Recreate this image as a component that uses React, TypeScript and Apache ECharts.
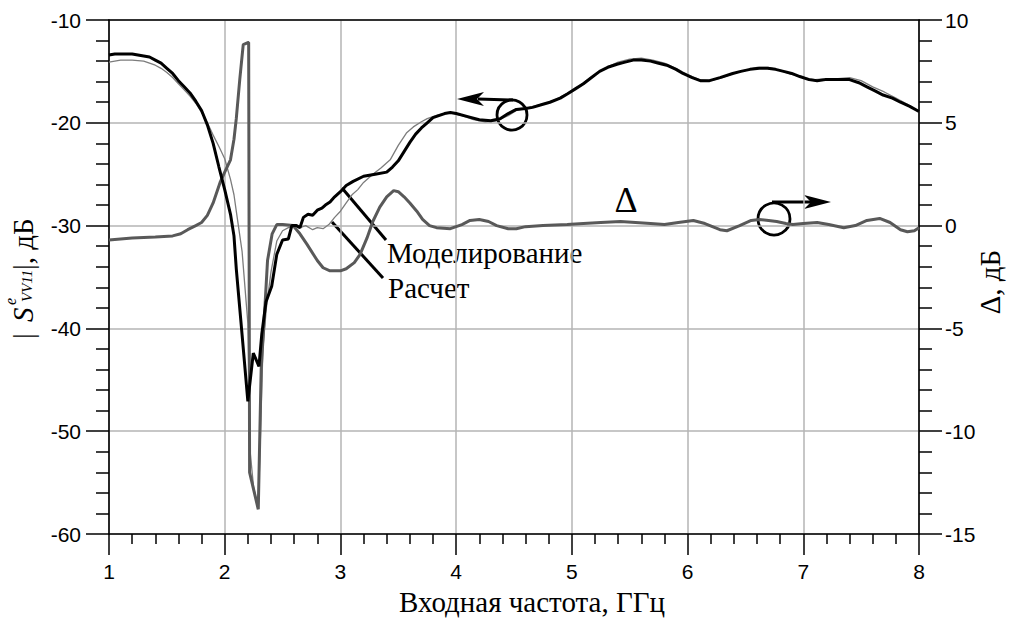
import React, { useEffect, useRef } from "react";
import * as echarts from "echarts";

// ---- Data ----
const xTicks = [1, 2, 3, 4, 5, 6, 7, 8];
const leftTicks = [-60, -50, -40, -30, -20, -10];
const rightTicks = [-15, -10, -5, 0, 5, 10];

// "Моделирование" — thick black curve, |S| in dB (left axis)
const modelFreq = [1.0, 1.05, 1.1, 1.2, 1.3, 1.35, 1.4, 1.45, 1.5, 1.55, 1.6, 1.65, 1.7, 1.75, 1.8, 1.85, 1.9, 1.95, 2.0, 2.05, 2.08, 2.1, 2.15, 2.2, 2.247, 2.296, 2.32, 2.357, 2.406, 2.45, 2.5, 2.55, 2.58, 2.62, 2.65, 2.68, 2.72, 2.76, 2.8, 2.84, 2.87, 2.91, 2.95, 3.0, 3.05, 3.11, 3.2, 3.3, 3.4, 3.45, 3.5, 3.55, 3.6, 3.65, 3.7, 3.75, 3.8, 3.9, 3.95, 4.0, 4.1, 4.2, 4.3, 4.38, 4.45, 4.52, 4.6, 4.66, 4.75, 4.81, 4.9, 4.96, 5.03, 5.1, 5.17, 5.24, 5.31, 5.39, 5.46, 5.53, 5.6, 5.68, 5.75, 5.82, 5.9, 5.96, 6.04, 6.11, 6.19, 6.28, 6.39, 6.46, 6.54, 6.62, 6.69, 6.76, 6.83, 6.9, 6.97, 7.05, 7.12, 7.19, 7.26, 7.33, 7.4, 7.48, 7.55, 7.62, 7.69, 7.77, 7.84, 7.92, 8.0];
const modelDb = [-13.4, -13.3, -13.3, -13.3, -13.5, -13.6, -13.9, -14.2, -14.7, -15.2, -15.9, -16.5, -17.1, -17.9, -18.8, -20.2, -22.0, -24.3, -26.5, -28.9, -31.0, -34.2, -40.6, -47.1, -42.4, -43.7, -40.6, -37.4, -35.9, -32.8, -31.4, -31.3, -30.0, -30.0, -30.2, -29.2, -28.9, -29.0, -28.5, -28.3, -28.0, -27.7, -27.2, -26.7, -26.1, -25.7, -25.2, -25.0, -24.8, -24.3, -23.7, -22.8, -21.9, -21.1, -20.5, -20.0, -19.5, -19.1, -19.0, -19.1, -19.4, -19.7, -19.8, -19.6, -19.1, -18.7, -18.6, -18.5, -18.2, -18.0, -17.6, -17.2, -16.7, -16.2, -15.6, -15.0, -14.6, -14.3, -14.1, -13.9, -13.9, -14.0, -14.2, -14.4, -14.8, -15.2, -15.6, -15.9, -15.9, -15.6, -15.2, -15.0, -14.8, -14.7, -14.7, -14.8, -15.0, -15.2, -15.5, -15.8, -15.9, -15.8, -15.8, -15.8, -15.8, -16.1, -16.5, -16.9, -17.3, -17.6, -18.0, -18.4, -18.9];

// "Расчет" — thin grey curve, |S| in dB (left axis)
const calcFreq = [1.0, 1.05, 1.1, 1.2, 1.3, 1.35, 1.4, 1.45, 1.5, 1.55, 1.6, 1.65, 1.7, 1.75, 1.8, 1.85, 1.9, 1.95, 2.0, 2.05, 2.08, 2.1, 2.15, 2.2, 2.22, 2.25, 2.29, 2.31, 2.33, 2.36, 2.4, 2.45, 2.5, 2.55, 2.6, 2.65, 2.7, 2.76, 2.8, 2.85, 2.9, 2.95, 3.0, 3.05, 3.1, 3.15, 3.2, 3.28, 3.35, 3.43, 3.5, 3.57, 3.63, 3.7, 3.75, 3.85, 3.95, 4.05, 4.15, 4.25, 4.35, 4.45, 4.52, 4.6, 4.7, 4.81, 4.9, 5.0, 5.1, 5.2, 5.3, 5.4, 5.5, 5.6, 5.7, 5.8, 5.9, 6.0, 6.1, 6.2, 6.3, 6.4, 6.5, 6.6, 6.7, 6.8, 6.9, 7.0, 7.1, 7.2, 7.3, 7.4, 7.5, 7.6, 7.7, 7.8, 7.9, 8.0];
const calcDb = [-14.1, -14.0, -13.9, -13.9, -14.0, -14.2, -14.4, -14.7, -15.1, -15.6, -16.2, -16.8, -17.4, -18.1, -19.0, -20.0, -21.2, -22.3, -23.5, -25.5, -27.0, -28.6, -32.5, -39.5, -52.0, -55.5, -57.5, -50.0, -42.0, -38.0, -34.5, -31.5, -30.5, -30.2, -30.0, -30.2, -30.0, -30.4, -30.2, -30.3, -29.9, -29.2, -28.6, -27.8, -27.0, -26.5, -25.8, -25.0, -24.4, -23.6, -22.2, -21.0, -20.4, -19.9, -19.6, -19.2, -19.0, -19.3, -19.7, -19.9, -19.8, -19.3, -18.8, -18.6, -18.3, -18.0, -17.5, -16.9, -16.1, -15.3, -14.6, -14.1, -13.8, -13.7, -13.9, -14.2, -14.7, -15.3, -15.8, -15.9, -15.6, -15.2, -14.9, -14.6, -14.6, -14.9, -15.3, -15.6, -15.8, -15.7, -15.7, -15.6, -15.9, -16.5, -17.0, -17.6, -18.2, -18.9];

// Δ — thick dark-grey curve, dB (right axis)
const deltaFreq = [1.0, 1.2, 1.4, 1.55, 1.62, 1.68, 1.75, 1.8, 1.85, 1.9, 1.96, 2.0, 2.05, 2.08, 2.1, 2.13, 2.16, 2.2, 2.207, 2.215, 2.29, 2.315, 2.35, 2.37, 2.41, 2.45, 2.5, 2.59, 2.65, 2.71, 2.8, 2.85, 2.91, 3.0, 3.05, 3.12, 3.17, 3.23, 3.28, 3.34, 3.4, 3.46, 3.5, 3.55, 3.6, 3.66, 3.71, 3.77, 3.83, 3.95, 4.05, 4.12, 4.2, 4.28, 4.35, 4.45, 4.52, 4.6, 4.75, 4.96, 5.1, 5.25, 5.42, 5.55, 5.68, 5.8, 5.92, 6.05, 6.15, 6.28, 6.34, 6.45, 6.55, 6.62, 6.7, 6.77, 6.85, 6.91, 7.0, 7.12, 7.22, 7.35, 7.45, 7.55, 7.66, 7.75, 7.84, 7.9, 7.96, 8.0];
const deltaDb = [-0.7, -0.6, -0.55, -0.5, -0.4, -0.2, 0.0, 0.15, 0.5, 1.1, 2.1, 2.6, 3.2, 4.2, 5.2, 7.1, 8.8, 8.9, 8.9, -12.0, -13.8, -7.0, -3.7, -1.7, -0.4, 0.05, 0.05, 0.0, -0.4, -0.9, -1.7, -2.05, -2.2, -2.2, -2.1, -1.8, -1.4, -0.6, 0.2, 0.9, 1.4, 1.7, 1.65, 1.4, 1.1, 0.7, 0.3, 0.0, -0.1, -0.15, 0.05, 0.25, 0.3, 0.2, 0.0, -0.15, -0.15, -0.05, 0.0, 0.05, 0.1, 0.15, 0.2, 0.15, 0.1, 0.05, 0.15, 0.25, 0.1, -0.2, -0.25, 0.0, 0.25, 0.3, 0.25, 0.2, 0.1, 0.05, 0.1, 0.15, 0.05, -0.1, 0.0, 0.25, 0.35, 0.15, -0.2, -0.3, -0.25, -0.1];

const zip = (xs: number[], ys: number[]) => xs.map((x, i) => [x, ys[i]]);

const SERIF = '"Liberation Serif", "Times New Roman", serif';
const SANS = '"Liberation Sans", Arial, sans-serif';

export default function App() {
  const ref = useRef<HTMLDivElement>(null);
  useEffect(() => {
    if (!ref.current) return;
    const chart = echarts.init(ref.current, undefined, { renderer: "svg" });
    const axisLine = { show: true, onZero: false, lineStyle: { color: "#000", width: 1.6 } };
    const tickStyle = { color: "#000", width: 1.5 };
    const labelStyle = { color: "#000", fontSize: 21, fontFamily: SANS };
    const txt = (x: number, y: number, text: string, size: number, extra: any = {}) => ({
      type: "text",
      x,
      y,
      style: { text, fontSize: size, fontFamily: SERIF, fill: "#000", align: "left", verticalAlign: "middle", ...extra },
    });
    const option: any = {
      animation: false,
      backgroundColor: "#fff",
      grid: { left: 109, right: 94, top: 20, bottom: 84, containLabel: false, outerBoundsMode: "none" },
      xAxis: [
        {
          type: "value",
          min: xTicks[0],
          max: xTicks[xTicks.length - 1],
          interval: 1,
          position: "bottom",
          axisLine,
          axisTick: { show: true, length: 21, lineStyle: tickStyle },
          minorTick: { show: true, splitNumber: 5, length: 10, lineStyle: tickStyle },
          axisLabel: { ...labelStyle, margin: 27 },
          splitLine: { show: true, lineStyle: { color: "#b5b5b5", width: 1.5 } },
          name: "Входная частота, ГГц",
          nameLocation: "middle",
          nameGap: 53,
          nameTextStyle: { fontFamily: SERIF, fontSize: 29, color: "#000", padding: [0, 0, 0, 36] },
        },
        {
          type: "value",
          min: xTicks[0],
          max: xTicks[xTicks.length - 1],
          position: "top",
          axisLine,
          axisTick: { show: false },
          axisLabel: { show: false },
          splitLine: { show: false },
        },
      ],
      yAxis: [
        {
          type: "value",
          min: leftTicks[0],
          max: leftTicks[leftTicks.length - 1],
          interval: 10,
          position: "left",
          axisLine,
          axisTick: { show: true, length: 23, lineStyle: tickStyle },
          minorTick: { show: true, splitNumber: 5, length: 13, lineStyle: tickStyle },
          axisLabel: { ...labelStyle, margin: 28 },
          splitLine: { show: true, lineStyle: { color: "#b5b5b5", width: 1.5 } },
        },
        {
          type: "value",
          min: rightTicks[0],
          max: rightTicks[rightTicks.length - 1],
          interval: 5,
          position: "right",
          axisLine,
          axisTick: { show: true, length: 23, lineStyle: tickStyle },
          minorTick: { show: true, splitNumber: 5, length: 13, lineStyle: tickStyle },
          axisLabel: { ...labelStyle, margin: 26 },
          splitLine: { show: false },
        },
      ],
      series: [
        {
          name: "Расчет",
          type: "line",
          xAxisIndex: 0,
          yAxisIndex: 0,
          data: zip(calcFreq, calcDb),
          showSymbol: false,
          lineStyle: { color: "#7c7c7c", width: 1.3 },
          z: 2,
        },
        {
          name: "Δ",
          type: "line",
          xAxisIndex: 0,
          yAxisIndex: 1,
          data: zip(deltaFreq, deltaDb),
          showSymbol: false,
          lineStyle: { color: "#595959", width: 3 },
          z: 3,
        },
        {
          name: "Моделирование",
          type: "line",
          xAxisIndex: 0,
          yAxisIndex: 0,
          data: zip(modelFreq, modelDb),
          showSymbol: false,
          lineStyle: { color: "#000", width: 3 },
          z: 4,
        },
      ],
      graphic: [
        // left axis title |S^e_VV11|, дБ
        {
          type: "group",
          x: 23,
          y: 278,
          rotation: Math.PI / 2,
          children: [
            txt(-58, 0, "|", 29, { align: "center" }),
            txt(-44, 0, "S", 29, { fontStyle: "italic" }),
            txt(-27, -13, "e", 16, { fontStyle: "italic" }),
            txt(-24, 4, "VV11", 15, { fontStyle: "italic" }),
            txt(8, 0, "|, дБ", 29),
          ],
        },
        // right axis title Δ, дБ
        {
          type: "group",
          x: 990,
          y: 282,
          rotation: Math.PI / 2,
          children: [txt(0, 0, "Δ, дБ", 29, { align: "center" })],
        },
        // annotations
        txt(387, 253, "Моделирование", 29),
        txt(388, 288, "Расчет", 29),
        txt(626, 200, "Δ", 36, { align: "center" }),
        { type: "line", shape: { x1: 342, y1: 188, x2: 386, y2: 240 }, style: { stroke: "#000", lineWidth: 3 } },
        { type: "line", shape: { x1: 332, y1: 222, x2: 383, y2: 278 }, style: { stroke: "#000", lineWidth: 3 } },
        { type: "circle", shape: { cx: 512, cy: 115, r: 15 }, style: { stroke: "#000", lineWidth: 2.8, fill: "none" } },
        { type: "line", shape: { x1: 478, y1: 99, x2: 513, y2: 100 }, style: { stroke: "#000", lineWidth: 3 } },
        { type: "polygon", shape: { points: [[457, 99], [484, 92], [477, 99], [484, 106]] }, style: { fill: "#000" } },
        { type: "circle", shape: { cx: 774, cy: 219, r: 16 }, style: { stroke: "#000", lineWidth: 2.8, fill: "none" } },
        { type: "line", shape: { x1: 772, y1: 202, x2: 812, y2: 202 }, style: { stroke: "#000", lineWidth: 3 } },
        { type: "polygon", shape: { points: [[831, 202], [804, 195], [811, 202], [804, 209]] }, style: { fill: "#000" } },
      ],
    };
    chart.setOption(option);
    return () => chart.dispose();
  }, []);
  return (
    <div
      ref={ref}
      style={{ position: "fixed", left: 0, top: 0, width: 1013, height: 618, background: "#fff" }}
    />
  );
}
